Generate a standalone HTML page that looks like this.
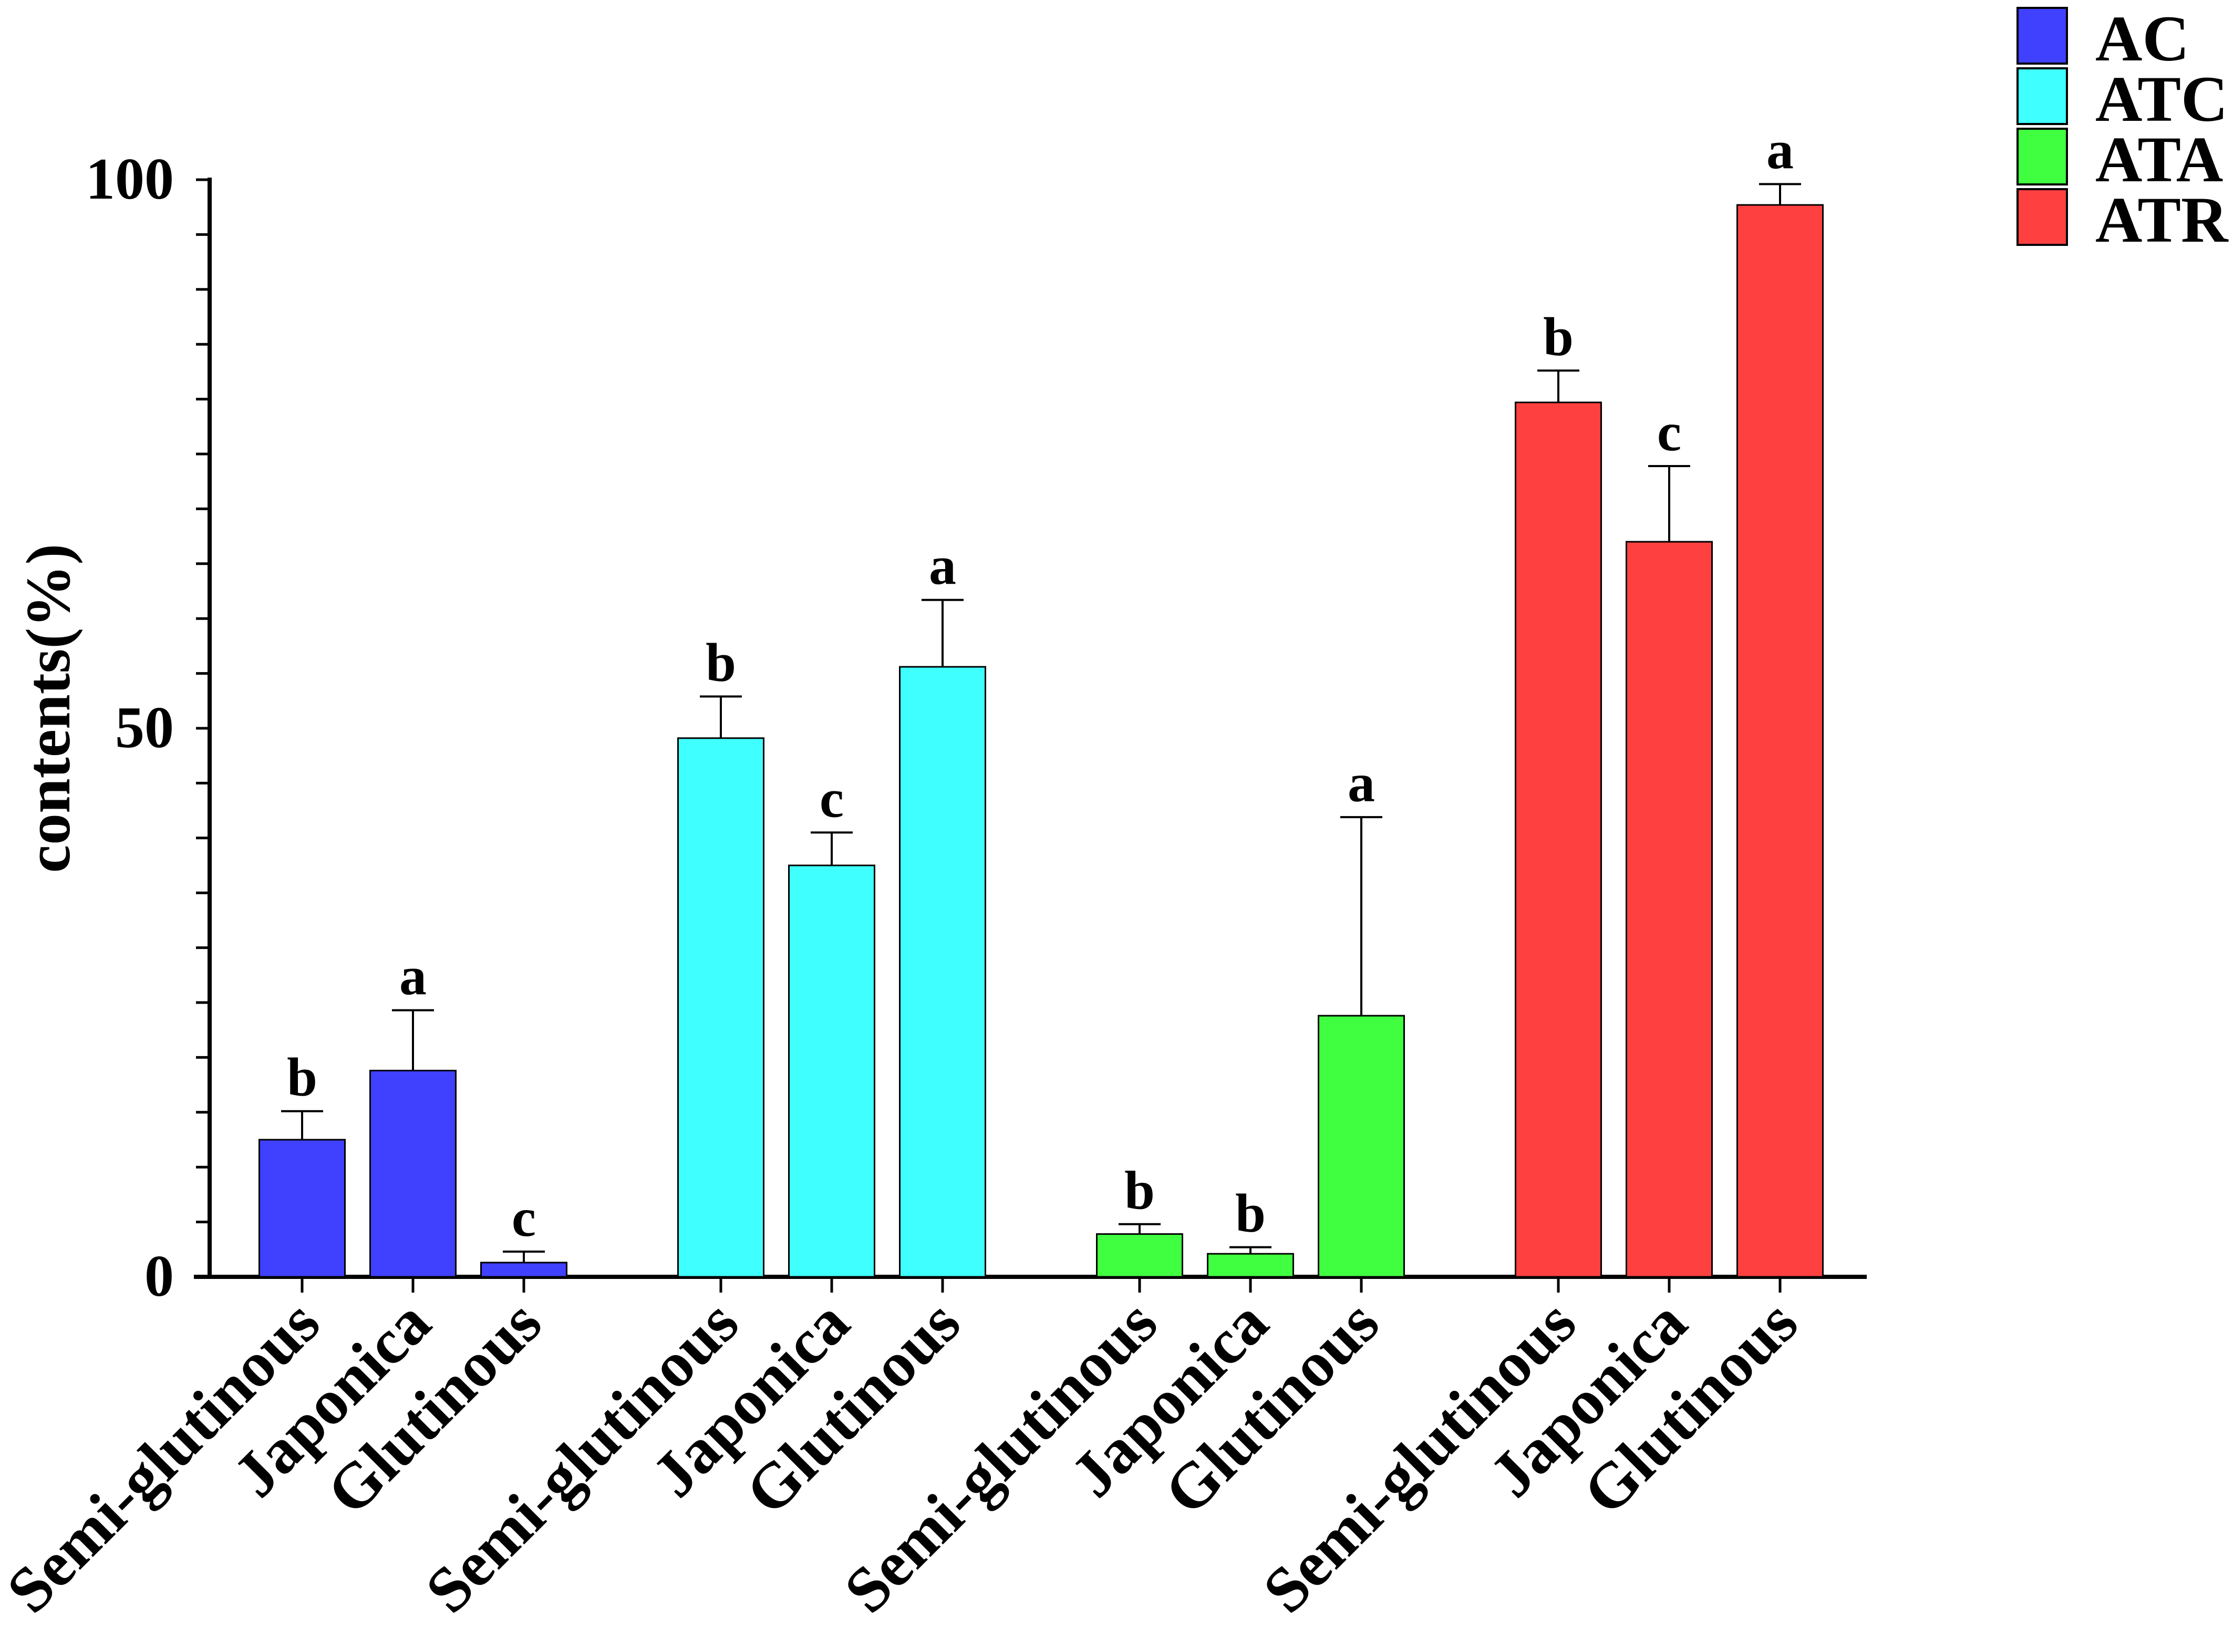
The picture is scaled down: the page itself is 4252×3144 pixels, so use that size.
<!DOCTYPE html>
<html><head><meta charset="utf-8"><style>
html,body{margin:0;padding:0;background:#fff;}
svg{display:block;font-family:"Liberation Serif",serif;font-weight:bold;}
</style></head><body>
<svg id="chart" width="4252" height="3144" viewBox="0 0 4252 3144" xmlns="http://www.w3.org/2000/svg">
<g id="axes"></g>
<g id="bars"></g>
<g id="legend"></g>
</svg>
<script>
const groups = ["AC","ATC","ATA","ATR"];
const categories = ["Semi-glutinous","Japonica","Glutinous"];
const colors = ["#4040ff","#40ffff","#40ff40","#ff4040"];
const valuesAC = [12.5, 18.8, 1.3];
const valuesATC = [49.1, 37.5, 55.6];
const valuesATA = [3.9, 2.1, 23.8];
const valuesATR = [79.7, 67.0, 97.7];
const errAC = [2.6, 5.5, 1.0];
const errATC = [3.8, 3.0, 6.1];
const errATA = [0.9, 0.6, 18.1];
const errATR = [2.9, 6.9, 1.9];
const lettersAC = ["b","a","c"];
const lettersATC = ["b","c","a"];
const lettersATA = ["b","b","a"];
const lettersATR = ["b","c","a"];
const yTicks = [0, 50, 100];

const values = [valuesAC, valuesATC, valuesATA, valuesATR];
const errs = [errAC, errATC, errATA, errATR];
const letters = [lettersAC, lettersATC, lettersATA, lettersATR];
const NS = "http://www.w3.org/2000/svg";
const x0 = 399, y0 = 2430, yTop = 342, xEnd = 3553;
const yScale = v => y0 - (v/100)*(y0 - yTop);
const xScale = (g,i) => 575 + g*797 + i*211;
const barW = 163;
function mk(tag, attrs, parent){const e=document.createElementNS(NS,tag);for(const k in attrs)e.setAttribute(k,attrs[k]);parent.appendChild(e);return e;}
const axes=document.getElementById('axes'), bars=document.getElementById('bars'), legend=document.getElementById('legend');

let ya = mk('line',{x1:x0,y1:yTop-4,x2:x0,y2:y0+4,stroke:'#000','stroke-width':8},axes);


let xa = mk('line',{x1:x0-30,y1:y0,x2:xEnd,y2:y0,stroke:'#000','stroke-width':8},axes);


for(let v=0; v<=100; v+=5){
  const t = mk('line',{x1:x0-26,y1:yScale(v),x2:x0,y2:yScale(v),stroke:'#000','stroke-width':5},axes);
  
  
}
yTicks.forEach(v=>{
  const t = mk('text',{x:331,y:yScale(v)+36,'text-anchor':'end','font-size':112},axes);
  t.textContent = v;
  
  
});
const yl = mk('text',{x:0,y:0,'text-anchor':'middle','font-size':120,transform:'translate(132,1348) rotate(-90)'},axes);
yl.textContent = 'contents(%)';



groups.forEach((g,gi)=>{
  categories.forEach((c,i)=>{
    const cx = xScale(gi,i), v = values[gi][i], e = errs[gi][i];
    const top = yScale(v), etop = yScale(v+e);
    const el = mk('line',{x1:cx,y1:top,x2:cx,y2:etop,stroke:'#000','stroke-width':4},bars);
    
    
    const cap = mk('line',{x1:cx-40,y1:etop,x2:cx+40,y2:etop,stroke:'#000','stroke-width':4},bars);
    
    
    const r = mk('rect',{x:cx-barW/2,y:top,width:barW,height:y0-top,fill:colors[gi],stroke:'#000','stroke-width':3},bars);
    
    
    const lt = mk('text',{x:cx,y:etop-30,'text-anchor':'middle','font-size':104},bars);
    lt.textContent = letters[gi][i];
    
    
    const tk = mk('line',{x1:cx,y1:y0,x2:cx,y2:y0+30,stroke:'#000','stroke-width':5},axes);
    
    
    const xl = mk('text',{x:0,y:0,'text-anchor':'end','font-size':122,transform:'translate('+(cx+40)+','+(y0+95)+') rotate(-45)'},axes);
    xl.textContent = c;
    
    
  });
  const sy = 15 + gi*115;
  const sq = mk('rect',{x:3840,y:sy,width:94,height:106,fill:colors[gi],stroke:'#000','stroke-width':4},legend);
  
  
  const lt = mk('text',{x:3988,y:sy+100,'font-size':124},legend);
  lt.textContent = g;
  
  
});
</script>
</body></html>
